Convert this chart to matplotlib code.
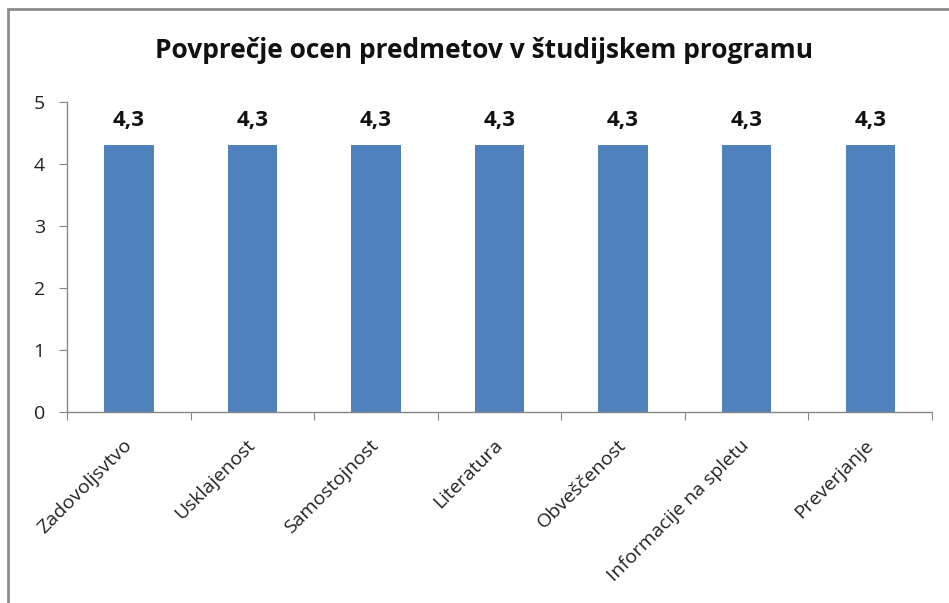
import matplotlib
matplotlib.use("Agg")
import matplotlib.pyplot as plt
from matplotlib.patches import Rectangle

categories = ["Zadovoljsvtvo", "Usklajenost", "Samostojnost", "Literatura",
              "Obveščenost", "Informacije na spletu", "Preverjanje"]
values = [4.3, 4.3, 4.3, 4.3, 4.3, 4.3, 4.3]
value_labels = ["4,3", "4,3", "4,3", "4,3", "4,3", "4,3", "4,3"]
yticks = [0, 1, 2, 3, 4, 5]

plt.rcParams['font.family'] = ['Open Sans', 'DejaVu Sans']

W, H = 949, 603
fig = plt.figure(figsize=(W / 100, H / 100), dpi=100)
fig.patch.set_facecolor("white")

# outer chart frame
fig.patches.append(Rectangle((8 / W, -0.1), 1.2, (H - 9) / H + 0.1,
                             transform=fig.transFigure, fill=False,
                             edgecolor="#8c8c8c", linewidth=2))

ax = fig.add_axes([67 / W, 1 - 412 / H, (932 - 67) / W, (412 - 102) / H])
x = list(range(len(categories)))
ax.bar(x, values, width=0.4, color="#4F81BD", zorder=2)
ax.set_xlim(-0.5, len(categories) - 0.5)
ax.set_ylim(0, 5)

for s in ["top", "right"]:
    ax.spines[s].set_visible(False)
for s in ["left", "bottom"]:
    ax.spines[s].set_color("#868686")
    ax.spines[s].set_linewidth(1)

ax.set_yticks(yticks)
ax.set_yticklabels([str(t) for t in yticks], fontsize=14)
ax.tick_params(axis="y", length=6, color="#868686", pad=10, labelcolor="#222222")

# category boundary ticks
ax.set_xticks([i - 0.5 for i in range(len(categories) + 1)])
ax.set_xticklabels([])
ax.tick_params(axis="x", which="major", length=6, color="#868686", direction="out")
ax.set_xticks(x, minor=True)
ax.set_xticklabels(categories, minor=True, rotation=45, ha="right",
                   va="center", rotation_mode="anchor", fontsize=14, color="#222222")
ax.tick_params(axis="x", which="minor", length=0, pad=22)

for xi, v, lab in zip(x, values, value_labels):
    ax.annotate(lab, (xi, v), xytext=(0, 18), textcoords="offset points",
                ha="center", va="center", fontsize=16, fontweight="bold", color="#111111")

fig.text(484 / W, 1 - 50 / H, "Povprečje ocen predmetov v študijskem programu",
         ha="center", va="center", fontsize=19, fontweight="bold", color="#111111")

fig.savefig("out.png", dpi=100, facecolor="white")
